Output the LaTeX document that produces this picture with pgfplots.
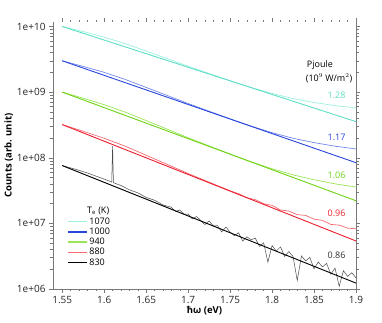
\documentclass[border=0pt]{standalone}
\usepackage{fontspec}
\setmainfont{Open Sans}
\usepackage{pgfplots}
\pgfplotsset{compat=1.18}
\definecolor{cyfit}{RGB}{95,222,198}
\definecolor{cydat}{RGB}{155,240,222}
\definecolor{blfit}{RGB}{40,70,220}
\definecolor{bldat}{RGB}{115,135,235}
\definecolor{grfit}{RGB}{110,210,20}
\definecolor{grdat}{RGB}{155,228,85}
\definecolor{rdfit}{RGB}{235,30,45}
\definecolor{rddat}{RGB}{245,105,115}
\definecolor{bkdat}{RGB}{75,75,75}
\definecolor{axgray}{RGB}{120,120,120}
\begin{document}
\begin{tikzpicture}
\path[use as bounding box] (-53pt,-33pt) rectangle (329pt,289pt);
\begin{axis}[
  at={(0pt,0pt)}, anchor=south west,
  scale only axis, width=303pt, height=267pt,
  ymode=log, xmin=1.539, xmax=1.9, ymin=1e6, ymax=1.17e10,
  clip=false,
  axis line style={draw=none},
  tick style={axgray, line width=0.4pt},
  tick align=outside, major tick length=4pt, minor tick length=2.5pt,
  xtick={1.55,1.6,1.65,1.7,1.75,1.8,1.85,1.9},
  xticklabels={1.55,1.6,1.65,1.7,1.75,1.8,1.85,1.9},
  minor x tick num=4,
  yticklabel={\pgfmathparse{int(round(\tick/ln(10)))}1e+\ifnum\pgfmathresult<10 0\fi\pgfmathresult},
  ticklabel style={font=\fontsize{10}{12}\selectfont, text=black!85},
  xlabel={\bfseries ħω (eV)}, ylabel={\bfseries Counts (arb. unit)},
  label style={font=\fontsize{9.5}{11}\selectfont},
  xlabel style={yshift=5pt},
  ylabel style={yshift=-3pt},
  legend style={draw=none, fill=none, at={(rel axis cs:0.045,0.275)}, anchor=north west,
    font=\fontsize{9}{10}\selectfont, row sep=-1.8pt, inner sep=0pt,
    legend cell align=left},
  legend image code/.code={\draw[#1] (0pt,0pt) -- (19pt,0pt);},
]
\draw[axgray, line width=0.5pt] (rel axis cs:0,1) -- (rel axis cs:0,0) -- (rel axis cs:1,0) -- (rel axis cs:1,1);
% 1070 K
\addplot[cydat, line width=0.7pt, forget plot] coordinates {
(1.55,1.00e10)(1.575,8.34e9)(1.6,6.89e9)(1.625,5.48e9)(1.65,4.23e9)(1.675,3.23e9)(1.7,2.48e9)(1.725,1.92e9)(1.75,1.49e9)(1.775,1.18e9)(1.8,9.53e8)(1.825,7.96e8)(1.85,6.95e8)(1.875,6.22e8)(1.9,5.75e8)};
\addplot[cyfit, line width=0.9pt, forget plot] coordinates {(1.55,1.00e10)(1.9,3.55e8)};
% 1000 K
\addplot[bldat, line width=0.7pt, forget plot] coordinates {
(1.55,3.00e9)(1.575,2.46e9)(1.6,2.00e9)(1.625,1.56e9)(1.65,1.18e9)(1.675,8.89e8)(1.7,6.70e8)(1.725,5.11e8)(1.75,3.91e8)(1.775,3.03e8)(1.8,2.41e8)(1.825,1.98e8)(1.85,1.70e8)(1.875,1.50e8)(1.9,1.36e8)};
\addplot[blfit, line width=0.9pt, forget plot] coordinates {(1.55,3.00e9)(1.9,8.40e7)};
% 940 K
\addplot[grdat, line width=0.7pt, forget plot] coordinates {
(1.55,1.00e9)(1.575,8.07e8)(1.6,6.43e8)(1.625,4.95e8)(1.65,3.69e8)(1.675,2.73e8)(1.7,2.02e8)(1.725,1.51e8)(1.75,1.14e8)(1.775,8.67e7)(1.8,6.79e7)(1.825,5.48e7)(1.85,4.62e7)(1.875,4.00e7)(1.9,3.58e7)};
\addplot[grfit, line width=0.9pt, forget plot] coordinates {(1.55,1.00e9)(1.9,2.21e7)};
% 880 K
\addplot[rddat, line width=0.7pt, forget plot] coordinates {
(1.55,3.20e8)(1.575,2.53e8)(1.6,1.98e8)(1.625,1.50e8)(1.65,1.09e8)(1.675,7.93e7)(1.7,5.75e7)(1.725,4.24e7)(1.75,3.13e7)
(1.76,2.84e7)(1.77,2.45e7)(1.78,2.30e7)(1.79,1.99e7)(1.80,1.88e7)(1.81,1.60e7)(1.82,1.54e7)(1.83,1.36e7)(1.84,1.32e7)(1.85,1.16e7)(1.86,1.11e7)(1.87,9.64e6)(1.88,9.40e6)(1.89,8.47e6)(1.90,8.26e6)};
\addplot[rdfit, line width=0.9pt, forget plot] coordinates {(1.55,3.20e8)(1.9,5.39e6)};
% 830 K
\addplot[bkdat, line width=0.5pt, forget plot] coordinates {
(1.55,7.60e7)(1.56,7.00e7)(1.57,6.44e7)(1.58,5.86e7)(1.59,5.26e7)(1.60,4.73e7)(1.609,4.26e7)(1.61,1.50e8)(1.611,4.16e7)
(1.62,3.78e7)(1.63,3.25e7)(1.64,2.92e7)(1.65,2.48e7)(1.66,2.25e7)(1.67,1.91e7)(1.68,1.76e7)(1.685,1.52e7)(1.69,1.60e7)
(1.695,1.38e7)(1.70,1.39e7)(1.705,1.17e7)(1.71,1.27e7)(1.715,1.11e7)(1.72,9.59e6)(1.725,1.09e7)(1.73,9.12e6)(1.735,9.23e6)
(1.74,7.40e6)(1.745,8.79e6)(1.75,7.38e6)(1.755,6.50e6)(1.76,7.19e6)(1.765,5.38e6)(1.77,6.25e6)(1.775,5.62e6)(1.78,5.96e6)
(1.785,4.46e6)(1.79,5.06e6)(1.795,2.56e6)(1.80,4.59e6)(1.805,3.78e6)(1.81,4.38e6)(1.815,3.13e6)(1.82,3.72e6)(1.825,3.13e6)
(1.83,1.35e6)(1.835,3.18e6)(1.84,2.68e6)(1.845,3.03e6)(1.85,2.03e6)(1.855,2.58e6)(1.86,2.17e6)(1.865,2.45e6)(1.87,1.68e6)
(1.875,2.08e6)(1.88,1.10e6)(1.885,1.90e6)(1.89,1.56e6)(1.895,1.77e6)(1.90,1.48e6)};
\addplot[black, line width=0.9pt, forget plot] coordinates {(1.55,7.60e7)(1.9,1.23e6)};
% legend
\addlegendimage{cydat, line width=0.7pt}
\addlegendentry{1070}
\addlegendimage{blfit, line width=1.6pt}
\addlegendentry{1000}
\addlegendimage{grdat, line width=1.6pt}
\addlegendentry{940}
\addlegendimage{rddat, line width=0.8pt}
\addlegendentry{880}
\addlegendimage{black, line width=1.6pt}
\addlegendentry{830}
\node[font=\fontsize{9}{10}\selectfont] at (rel axis cs:0.149,0.292) {T$_\mathrm{e}$ (K)};
\node[font=\fontsize{9}{10}\selectfont] at (rel axis cs:0.881,0.839) {Pjoule};
\node[font=\fontsize{9}{10}\selectfont] at (rel axis cs:0.911,0.790) {(10$^9$ W/m$^2$)};
\node[font=\fontsize{9}{10}\selectfont, text=cyfit, anchor=east] at (rel axis cs:0.977,0.727) {1.28};
\node[font=\fontsize{9}{10}\selectfont, text=blfit, anchor=east] at (rel axis cs:0.977,0.569) {1.17};
\node[font=\fontsize{9}{10}\selectfont, text=grfit, anchor=east] at (rel axis cs:0.977,0.427) {1.06};
\node[font=\fontsize{9}{10}\selectfont, text=rdfit, anchor=east] at (rel axis cs:0.977,0.285) {0.96};
\node[font=\fontsize{9}{10}\selectfont, text=black!80, anchor=east] at (rel axis cs:0.977,0.127) {0.86};
\end{axis}
\end{tikzpicture}
\end{document}
